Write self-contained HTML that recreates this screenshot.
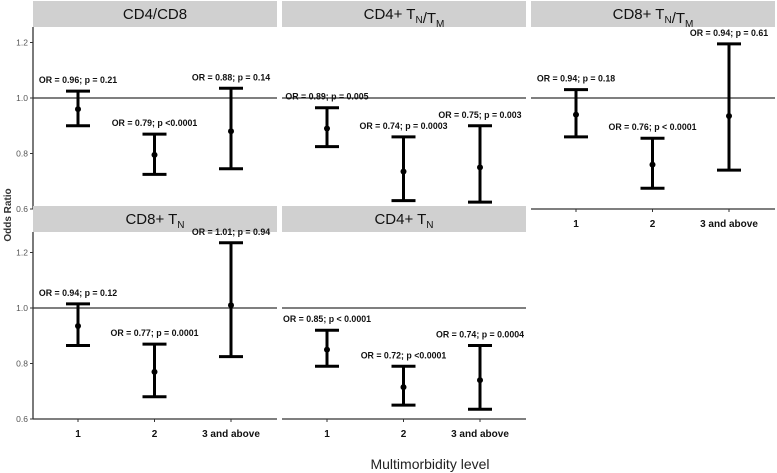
<!DOCTYPE html>
<html><head><meta charset="utf-8"><style>
html,body{margin:0;padding:0;background:#fff;}
svg{display:block;font-family:"Liberation Sans",sans-serif;}
</style></head><body>
<svg id="chart" width="777" height="473" viewBox="0 0 777 473"></svg>
<script>
const panelTitles = ["CD4/CD8","CD4+ T_N/T_M","CD8+ T_N/T_M","CD8+ T_N","CD4+ T_N"];
const categories = ["1","2","3 and above"];
const orValues = [[0.96,0.795,0.88],[0.89,0.735,0.75],[0.94,0.76,0.935],[0.935,0.77,1.01],[0.85,0.715,0.74]];
const ciLow = [[0.90,0.725,0.745],[0.825,0.63,0.625],[0.86,0.675,0.74],[0.865,0.68,0.825],[0.79,0.65,0.635]];
const ciHigh = [[1.025,0.87,1.035],[0.965,0.86,0.90],[1.03,0.855,1.195],[1.015,0.87,1.235],[0.92,0.79,0.865]];
const labels = [["OR = 0.96; p = 0.21","OR = 0.79; p <0.0001","OR = 0.88; p = 0.14"],
 ["OR = 0.89; p = 0.005","OR = 0.74; p = 0.0003","OR = 0.75; p = 0.003"],
 ["OR = 0.94; p = 0.18","OR = 0.76; p < 0.0001","OR = 0.94; p = 0.61"],
 ["OR = 0.94; p = 0.12","OR = 0.77; p = 0.0001","OR = 1.01; p = 0.94"],
 ["OR = 0.85; p < 0.0001","OR = 0.72; p <0.0001","OR = 0.74; p = 0.0004"]];
const yTicks = [0.6,0.8,1.0,1.2];

const NS="http://www.w3.org/2000/svg";
const svg=document.getElementById('chart');
function mk(tag,attrs,parent){const e=document.createElementNS(NS,tag);for(const k in attrs)e.setAttribute(k,attrs[k]);(parent||svg).appendChild(e);return e;}
const panels=[{x:33,top:27,base:209},{x:282,top:27,base:209},{x:531,top:27,base:209},{x:33,top:232,base:419},{x:282,top:232,base:419}];
const PW=244, PX=277.5;
function yScale(p,v){return p.base-(v-0.6)*PX;}
function xScale(p,i){return p.x+45+i*76.5;}
function titleSpan(t,el){
  const parts=t.split(/(T_[NM])/);
  parts.forEach(s=>{if(!s)return;
    if(s.startsWith("T_")){const a=mk('tspan',{},el);a.textContent="T";const b=mk('tspan',{'font-size':'10','dy':'4'},el);b.textContent=s[2];const c=mk('tspan',{'dy':'-4'},el);c.textContent="";}
    else{const a=mk('tspan',{},el);a.textContent=s;}});
}
panels.forEach((p,pi)=>{
  const g=mk('g',{});
  
  
  const st=mk('rect',{x:p.x,y:p.top-26,width:PW,height:26,fill:'#d0d0d0'},g);
  
  
  const tt=mk('text',{x:p.x+PW/2,y:p.top-8,'text-anchor':'middle','font-size':'15',fill:'#111'},g);
  
  
  titleSpan(panelTitles[pi],tt);
  const r=mk('line',{x1:p.x,x2:p.x+PW,y1:yScale(p,1),y2:yScale(p,1),stroke:'#333','stroke-width':1.3},g);
  
  
  const showX = (pi>=2);
  if(showX){
    const xa=mk('line',{x1:p.x,x2:p.x+PW,y1:p.base,y2:p.base,stroke:'#333','stroke-width':1.3},g);
    
    
    categories.forEach((c,i)=>{
      mk('line',{x1:xScale(p,i),x2:xScale(p,i),y1:p.base,y2:p.base+3,stroke:'#333'},g);
      const t=mk('text',{x:xScale(p,i),y:p.base+18,'text-anchor':'middle','font-size':'10','font-weight':'bold',fill:'#111'},g);
      
      
      t.textContent=c;
    });
  }
  if(p.x===33){
    const ya=mk('line',{x1:p.x,x2:p.x,y1:p.top,y2:p.base,stroke:'#333','stroke-width':1.3},g);
    
    
    yTicks.forEach(v=>{
      mk('line',{x1:p.x-3,x2:p.x,y1:yScale(p,v),y2:yScale(p,v),stroke:'#333'},g);
      const t=mk('text',{x:p.x-5,y:yScale(p,v)+3,'text-anchor':'end','font-size':'8.5',fill:'#555'},g);
      
      
      t.textContent=v.toFixed(1);
    });
  }
  categories.forEach((c,i)=>{
    const x=xScale(p,i), yh=yScale(p,ciHigh[pi][i]), yl=yScale(p,ciLow[pi][i]), ym=yScale(p,orValues[pi][i]);
    const eb=mk('g',{},g);
    
    
    mk('line',{x1:x,x2:x,y1:yh,y2:yl,stroke:'#000','stroke-width':3},eb);
    mk('line',{x1:x-12,x2:x+12,y1:yh,y2:yh,stroke:'#000','stroke-width':3},eb);
    mk('line',{x1:x-12,x2:x+12,y1:yl,y2:yl,stroke:'#000','stroke-width':3},eb);
    const pt=mk('circle',{cx:x,cy:ym,r:3,fill:'#000'},g);
    
    
    const lb=mk('text',{x:x,y:yh-8,'text-anchor':'middle','font-size':'8.8','font-weight':'bold',fill:'#111'},g);
    
    
    lb.textContent=labels[pi][i];
  });
});
const yt=mk('text',{x:11,y:215,'text-anchor':'middle','font-size':'10','font-weight':'bold',fill:'#333',transform:'rotate(-90 11 215)'});


yt.textContent="Odds Ratio";
const xt=mk('text',{x:430,y:469,'text-anchor':'middle','font-size':'14',fill:'#222'});


xt.textContent="Multimorbidity level";
</script>
</body></html>
